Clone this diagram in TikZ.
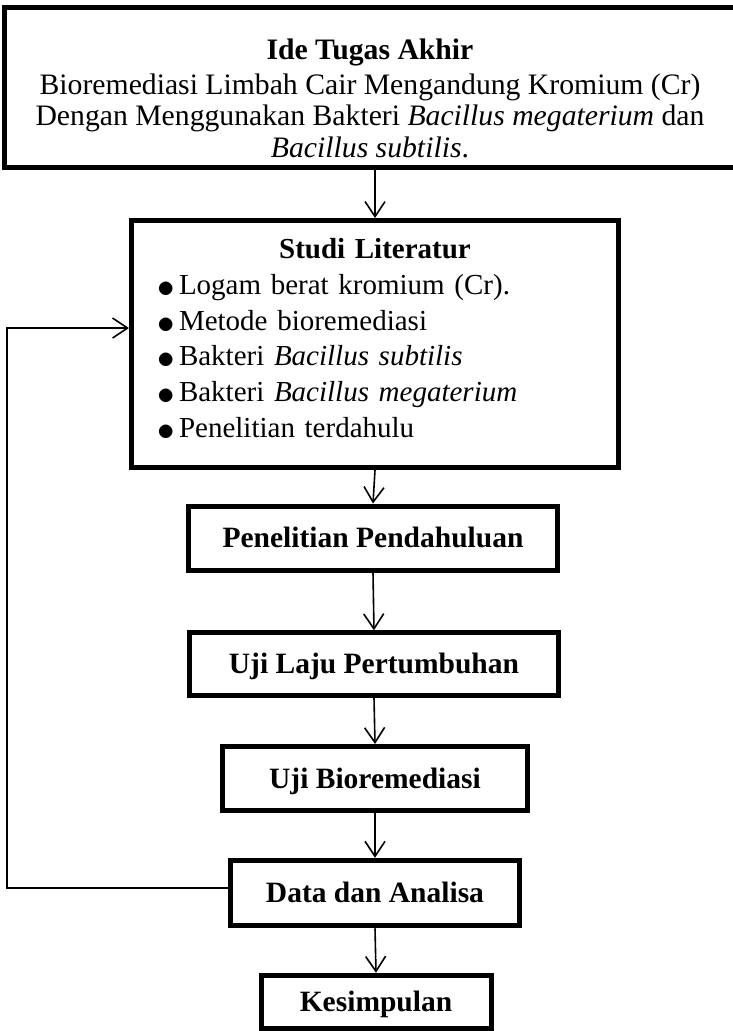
\documentclass[tikz,border=0pt]{standalone}
\usepackage{fontspec}
\setmainfont{Liberation Serif}
\usetikzlibrary{arrows.meta}
\newcommand\litbullet{\makebox[25.25pt][l]{\hspace{3.5pt}\raisebox{-2.9pt}{\scalebox{1.4}{$\bullet$}}}}
\tikzset{
  >={Straight Barb[length=15pt,width=20pt]},
  box/.style={draw,line width=5pt,align=center,inner sep=0pt,font=\fontsize{29.7}{31.3}\selectfont},
  sbox/.style={box,font=\fontsize{29.5}{31.3}\selectfont\bfseries,text height=19pt,text depth=0pt},
  arr/.style={->,line width=1.6pt},
}

\begin{document}
\begin{tikzpicture}[x=1pt,y=-1pt]
\useasboundingbox (0,0) rectangle (732,1031);
% boxes, top to bottom
\node[box,minimum width=731pt,minimum height=160pt] (ide) at (370,87.5)
  {\rule{0pt}{42pt}\textbf{Ide Tugas Akhir}\\[4pt]
   Bioremediasi Limbah Cair Mengandung Kromium (Cr)\\
   Dengan Menggunakan Bakteri \textit{Bacillus megaterium} dan\\
   \textit{Bacillus subtilis}.};
\node[box,minimum width=487pt,minimum height=247pt,text width=442.5pt,align=left,
  font=\fontsize{29}{35.7}\selectfont] (lit) at (375,344)
  {\makebox[442.5pt]{\textbf{Studi Literatur}}\\
   \litbullet Logam berat kromium (Cr).\\
   \litbullet Metode bioremediasi\\
   \litbullet Bakteri \textit{Bacillus subtilis}\\
   \litbullet Bakteri \textit{Bacillus megaterium}\\
   \litbullet Penelitian terdahulu\rule[-12pt]{0pt}{0pt}};
\node[sbox,minimum width=369.5pt,minimum height=64pt] (pend) at (373,538) {Penelitian Pendahuluan};
\node[sbox,minimum width=369pt,minimum height=62.5pt] (laju) at (374,664) {Uji Laju Pertumbuhan};
\node[sbox,minimum width=305.5pt,minimum height=64pt] (bio) at (375,778.5) {Uji Bioremediasi};
\node[sbox,minimum width=288.5pt,minimum height=65.5pt] (data) at (375,893) {Data dan Analisa};
\node[sbox,minimum width=230pt,minimum height=53.5pt] (kes) at (376,1002) {Kesimpulan};
% arrows
\draw[arr] (ide.south -| lit.north) -- (lit.north);
\draw[arr] (lit.south) -- (pend.north);
\draw[arr] (pend.south) -- (laju.north);
\draw[arr] (laju.south) -- (bio.north);
\draw[arr] (bio.south) -- (data.north);
\draw[arr] (data.south) -- (kes.north);
% back to the literature
\coordinate (back) at (7,888);
\draw[arr] ([yshift=5pt]data.west) -- (back) |- ([yshift=16pt]lit.west);
\end{tikzpicture}
\end{document}
